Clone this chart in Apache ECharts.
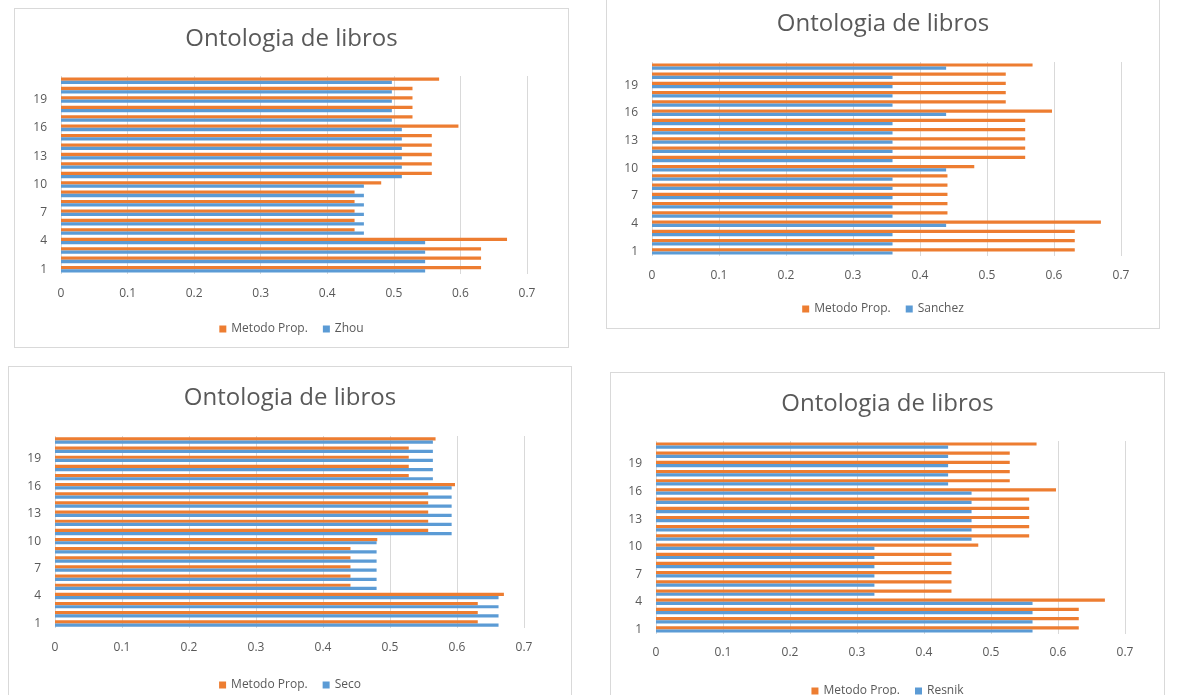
<!DOCTYPE html>
<html>
<head>
<meta charset="utf-8">
<script src="https://cdn.jsdelivr.net/npm/echarts@6/dist/echarts.min.js"></script>
<style>
  html, body { margin: 0; padding: 0; background: #ffffff; width: 1177px; height: 695px; overflow: hidden; }
  .panel { position: absolute; box-sizing: border-box; border: 1px solid #d9d9d9; background: #ffffff; }
  .panel .chart { position: absolute; left: 0; top: 0; right: 0; bottom: 0; }
</style>
</head>
<body>
<div class="panel" style="left:14px;top:8px;width:555px;height:340px"><div class="chart" id="c1"></div></div>
<div class="panel" style="left:606px;top:-10px;width:554px;height:339px"><div class="chart" id="c2"></div></div>
<div class="panel" style="left:8px;top:366px;width:564px;height:340px"><div class="chart" id="c3"></div></div>
<div class="panel" style="left:610px;top:372px;width:555px;height:335px"><div class="chart" id="c4"></div></div>
<script>
// Query numbers 1..21 on the category axis
const categories = ['1','2','3','4','5','6','7','8','9','10','11','12','13','14','15','16','17','18','19','20','21'];

// Similarity scores per query
const metodoProp = [0.631,0.631,0.631,0.670,0.441,0.441,0.441,0.441,0.441,0.481,0.557,0.557,0.557,0.557,0.557,0.597,0.528,0.528,0.528,0.528,0.568];
const zhou       = [0.547,0.547,0.547,0.547,0.455,0.455,0.455,0.455,0.455,0.455,0.512,0.512,0.512,0.512,0.512,0.512,0.497,0.497,0.497,0.497,0.497];
const sanchez    = [0.359,0.359,0.359,0.439,0.359,0.359,0.359,0.359,0.359,0.439,0.359,0.359,0.359,0.359,0.359,0.439,0.359,0.359,0.359,0.359,0.439];
const seco       = [0.662,0.662,0.662,0.662,0.480,0.480,0.480,0.480,0.480,0.480,0.592,0.592,0.592,0.592,0.592,0.592,0.564,0.564,0.564,0.564,0.564];
const resnik     = [0.562,0.562,0.562,0.562,0.326,0.326,0.326,0.326,0.326,0.326,0.471,0.471,0.471,0.471,0.471,0.471,0.436,0.436,0.436,0.436,0.436];

const titleText = 'Ontologia de libros';
const ownName = 'Metodo Prop.';

const ORANGE = '#ED7D31';
const BLUE = '#5B9BD5';
const TEXT = '#595959';
const GRID = '#d9d9d9';
const FONT = '"Open Sans", "Liberation Sans", sans-serif';

function panel(id, otherName, otherValues, lay) {
  const chart = echarts.init(document.getElementById(id), null, { renderer: 'canvas' });
  chart.setOption({
    animation: false,
    textStyle: { fontFamily: FONT },
    title: {
      text: titleText,
      left: 'center',
      top: lay.titleTop,
      textStyle: { fontFamily: FONT, fontSize: 24, fontWeight: 'normal', color: TEXT }
    },
    legend: {
      data: [ownName, otherName],
      left: 'center',
      top: lay.legendTop,
      icon: 'rect',
      itemWidth: 7,
      itemHeight: 7,
      itemGap: 15,
      textStyle: { fontFamily: FONT, fontSize: 12, color: TEXT }
    },
    grid: { left: lay.left, top: lay.top, width: lay.width, height: lay.height, containLabel: false },
    xAxis: {
      type: 'value',
      min: 0,
      max: 0.7,
      interval: 0.1,
      axisLine: { show: false },
      axisTick: { show: false },
      splitLine: { show: true, lineStyle: { color: GRID, width: 1 } },
      axisLabel: { color: TEXT, fontSize: 12, fontFamily: FONT, margin: lay.xMargin,
                   formatter: v => (Math.round(v * 10) / 10).toString() }
    },
    yAxis: {
      type: 'category',
      data: categories,
      axisLine: { show: false },
      axisTick: { show: false },
      splitLine: { show: false },
      axisLabel: { color: TEXT, fontSize: 12, fontFamily: FONT, interval: 2, margin: 14 }
    },
    series: [
      { name: ownName, type: 'bar', data: metodoProp, itemStyle: { color: ORANGE },
        barGap: '0%', barCategoryGap: '30%' },
      { name: otherName, type: 'bar', data: otherValues, itemStyle: { color: BLUE },
        barGap: '0%', barCategoryGap: '30%' }
    ]
  });
}

panel('c1', 'Zhou', zhou,
  { titleTop: 13, legendTop: 309, left: 46, top: 67, width: 466, height: 198, xMargin: 14 });
panel('c2', 'Sanchez', sanchez,
  { titleTop: 16, legendTop: 307, left: 45, top: 71, width: 469, height: 194, xMargin: 14 });
panel('c3', 'Seco', seco,
  { titleTop: 14, legendTop: 307, left: 46, top: 69, width: 469, height: 192, xMargin: 14 });
panel('c4', 'Resnik', resnik,
  { titleTop: 14, legendTop: 307, left: 45, top: 68, width: 469, height: 193, xMargin: 13 });
</script>
</body>
</html>
